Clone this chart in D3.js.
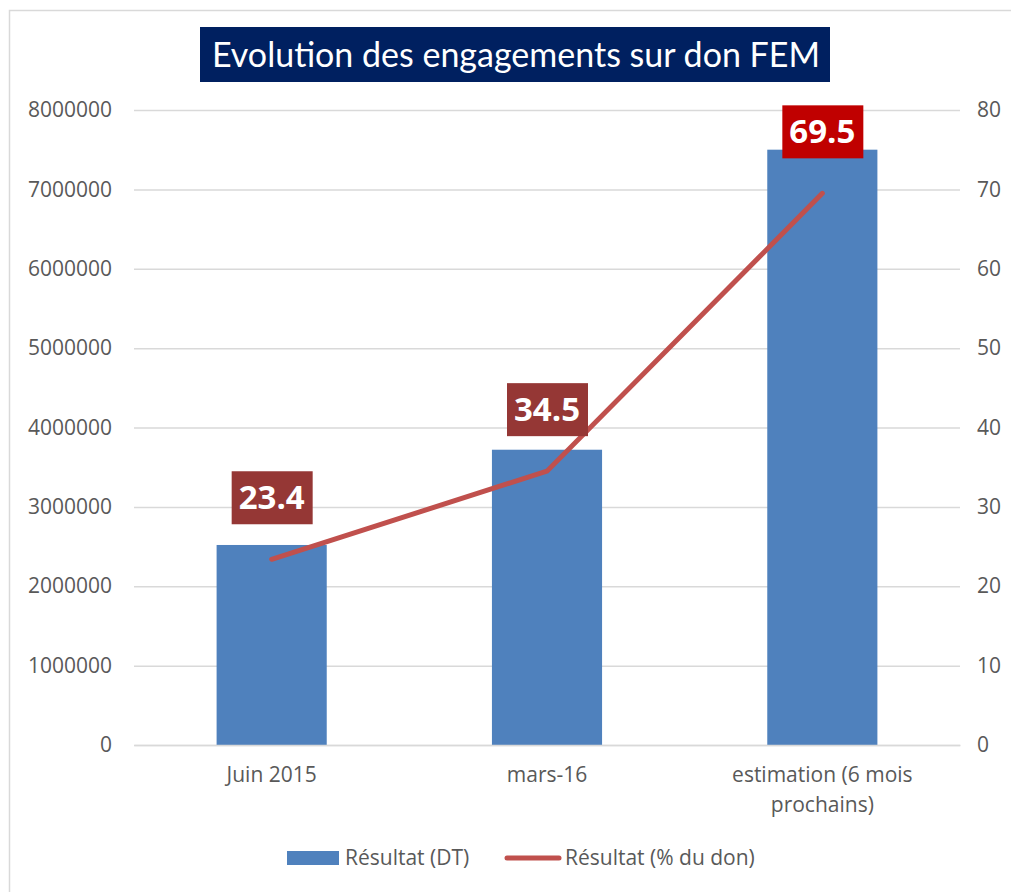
<!doctype html>
<html>
  <head>
    <meta charset="utf-8">
    <title>Evolution des engagements sur don FEM</title>
    <script src="https://cdn.jsdelivr.net/npm/d3@7"></script>
    <style>
      body { margin: 0; background: #fff; }
      text { font-family: "Open Sans", sans-serif; }
    </style>
  </head>
  <body>
    <script>
      const categories = ['Juin 2015', 'mars-16', 'estimation (6 mois prochains)'];
      const amounts = [2520000, 3720000, 7500000];
      const percents = [23.4, 34.5, 69.5];
      const leftTicks = [0, 1000000, 2000000, 3000000, 4000000, 5000000, 6000000, 7000000, 8000000];
      const rightTicks = [0, 10, 20, 30, 40, 50, 60, 70, 80];
      const labelColors = ['#953735', '#953735', '#c00000'];

      const width = 1011;
      const height = 892;
      const plot = { left: 134, right: 960, top: 110, bottom: 745 };

      const svg = d3.select('body').append('svg')
          .attr('width', width)
          .attr('height', height);

      // cadre
      svg.append('rect')
          .attr('x', 9.5).attr('y', 10.5)
          .attr('width', 1100).attr('height', 1000)
          .attr('fill', 'none')
          .attr('stroke', '#d9d9d9')
          .attr('stroke-width', 1.5);

      const x = d3.scaleBand()
          .domain(categories)
          .range([plot.left, plot.right])
          .paddingInner(0.6)
          .paddingOuter(0.3);

      const yLeft = d3.scaleLinear()
          .domain([0, 8000000])
          .range([plot.bottom, plot.top]);

      const yRight = d3.scaleLinear()
          .domain([0, 80])
          .range([plot.bottom, plot.top]);

      // grille + axe gauche
      const gLeft = svg.append('g')
          .attr('transform', `translate(${plot.left}, 0)`)
          .call(d3.axisLeft(yLeft)
            .tickValues(leftTicks)
            .tickSize(-(plot.right - plot.left))
            .tickPadding(22)
            .tickFormat(d3.format('d')));
      gLeft.select('.domain').remove();
      gLeft.selectAll('line').attr('stroke', '#d9d9d9').attr('stroke-width', 1.5);
      gLeft.selectAll('text')
          .attr('fill', '#595959')
          .style('font-size', '21px');

      // axe droit
      const gRight = svg.append('g')
          .attr('transform', `translate(${plot.right}, 0)`)
          .call(d3.axisRight(yRight)
            .tickValues(rightTicks)
            .tickSize(0)
            .tickPadding(17));
      gRight.select('.domain').remove();
      gRight.selectAll('text')
          .attr('fill', '#595959')
          .style('font-size', '21px');

      // barres
      svg.append('g')
          .attr('fill', '#4f81bd')
        .selectAll('rect')
        .data(amounts)
        .enter().append('rect')
          .attr('x', (d, i) => x(categories[i]))
          .attr('y', d => yLeft(d))
          .attr('width', x.bandwidth())
          .attr('height', d => yLeft(0) - yLeft(d));

      // axe x
      const gX = svg.append('g')
          .attr('transform', `translate(0, ${plot.bottom})`)
          .call(d3.axisBottom(x).tickSize(0).tickFormat(() => ''));
      gX.select('.domain').attr('stroke', '#d9d9d9').attr('stroke-width', 1.5);
      gX.selectAll('.tick text').remove();
      gX.selectAll('.tick').each(function(d) {
        const words = d === categories[2] ? ['estimation (6 mois', 'prochains)'] : [d];
        const t = d3.select(this).append('text')
            .attr('text-anchor', 'middle')
            .attr('fill', '#595959')
            .style('font-size', '21px');
        words.forEach((w, k) => {
          t.append('tspan').attr('x', 0).attr('y', 37 + k * 30).text(w);
        });
      });

      // ligne
      const cx = i => x(categories[i]) + x.bandwidth() / 2;
      const line = d3.line()
          .x((d, i) => cx(i))
          .y(d => yRight(d));
      svg.append('path')
          .datum(percents)
          .attr('d', line)
          .attr('fill', 'none')
          .attr('stroke', '#c0504d')
          .attr('stroke-width', 5)
          .attr('stroke-linecap', 'round');

      // étiquettes
      const labels = svg.append('g').selectAll('g')
        .data(percents)
        .enter().append('g')
          .attr('transform', (d, i) => `translate(${cx(i)}, ${yRight(d) - 62})`);
      labels.append('rect')
          .attr('x', -40).attr('y', -26)
          .attr('width', 81).attr('height', 53)
          .attr('fill', (d, i) => labelColors[i]);
      labels.append('text')
          .attr('text-anchor', 'middle')
          .attr('dy', '0.36em')
          .attr('fill', '#fff')
          .style('font-size', '33px')
          .style('font-weight', 'bold')
          .text(d => d);

      // titre
      svg.append('rect')
          .attr('x', 200).attr('y', 27)
          .attr('width', 630).attr('height', 55)
          .attr('fill', '#002060');
      svg.append('text')
          .attr('x', 516).attr('y', 55)
          .attr('dy', '0.35em')
          .attr('text-anchor', 'middle')
          .attr('fill', '#fff')
          .style('font-family', 'Lato, sans-serif')
          .style('font-size', '34px')
          .text('Evolution des engagements sur don FEM');

      // légende
      const legend = svg.append('g').attr('transform', 'translate(0, 858)');
      legend.append('rect')
          .attr('x', 287).attr('y', -7).attr('width', 52).attr('height', 14)
          .attr('fill', '#4f81bd');
      legend.append('text')
          .attr('x', 345).attr('dy', '0.35em')
          .attr('fill', '#595959').style('font-size', '21px')
          .text('Résultat (DT)');
      legend.append('line')
          .attr('x1', 507).attr('x2', 559)
          .attr('stroke', '#c0504d').attr('stroke-width', 5)
          .attr('stroke-linecap', 'round');
      legend.append('text')
          .attr('x', 565).attr('dy', '0.35em')
          .attr('fill', '#595959').style('font-size', '21px')
          .text('Résultat (% du don)');
    </script>
  </body>
</html>
